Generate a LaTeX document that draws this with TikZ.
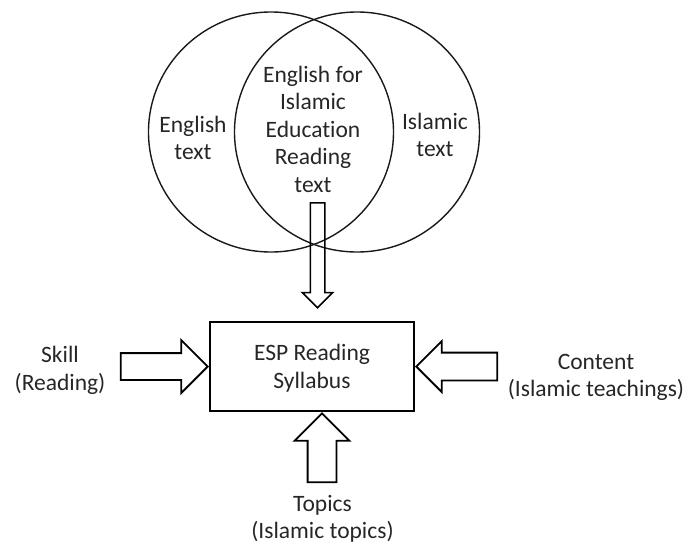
\documentclass[tikz,border=0pt]{standalone}
\usepackage{fontspec}
\setmainfont{Carlito}[Ligatures=NoCommon]
\usetikzlibrary{shapes.arrows,shapes.geometric,positioning}
\tikzset{
    %Define style for text labels
    lbl/.style={
      align=center,
      inner sep=0pt,
      text=black!85,
      font=\fontsize{23.5}{27.5}\selectfont},
    %Define style for the two sets
    textset/.style={
      ellipse,
      draw=black!90, line width=1.4pt,
      minimum width=245pt,
      minimum height=240pt,
      inner sep=0pt},
    %Define style for the syllabus box
    sylbox/.style={
      rectangle,
      draw=black, line width=2pt,
      minimum width=204pt,
      minimum height=89pt,
      text depth=0pt,
      lbl},
    % Define block arrow style (inner sep = half the shaft)
    blkarr/.style={
      single arrow,
      draw=black, line width=1.8pt,
      inner sep=12.5pt,
      single arrow head extend=13pt}
}

\begin{document}
\begin{tikzpicture}[x=1pt, y=-1pt]
    \useasboundingbox (0,0) rectangle (688,544);
    % the two text sets
    \node[textset] (english) at (271,132) {};
    \node[textset] (islamic) at (357,132) {};
    \node[lbl] (engtxt) at (193,138) {English\\text};
    \node[lbl] (isltxt) at (435,135) {Islamic\\text};
    \node[lbl] (eietxt) at (313,129) {English for\\Islamic\\Education\\Reading\\text};
    \coordinate (overlap) at (317.5,202);
    % syllabus and its inputs
    \node[sylbox] (syllabus) at (312,366.5) {ESP Reading\\Syllabus};
    \node[blkarr, shape border rotate=270, anchor=tail,
      minimum height=105pt, inner sep=6.5pt,
      single arrow head extend=8pt, line width=1.5pt] (eiearr) at (overlap) {};
    \node[blkarr, anchor=tip, minimum height=87pt] (skillarr) at (syllabus.west) {};
    \node[blkarr, shape border rotate=180, anchor=tip,
      minimum height=81pt, inner sep=13pt,
      single arrow head extend=11.5pt] (contentarr) at (syllabus.east) {};
    \node[blkarr, shape border rotate=90, anchor=tip,
      minimum height=69pt, inner sep=13.5pt] (topicsarr) at ([xshift=10pt]syllabus.south) {};
    \node[lbl] (skill) at (60,370.5) {Skill\\(Reading)};
    \node[lbl] (content) at (596,377.5) {Content\\(Islamic teachings)};
    \node[lbl] (topics) at (322.5,519) {Topics\\(Islamic topics)};
\end{tikzpicture}
\end{document}
